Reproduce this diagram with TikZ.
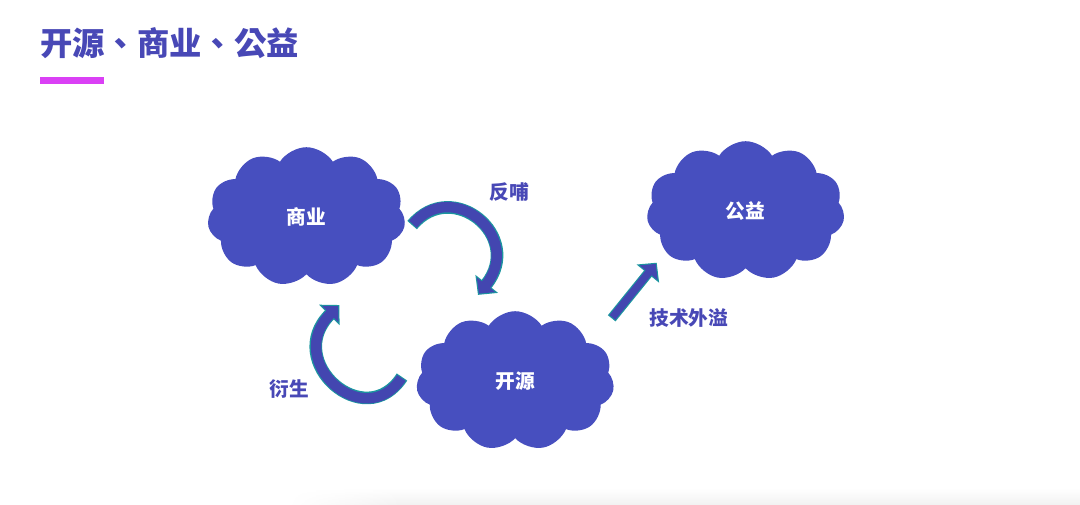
\documentclass[tikz,border=0pt]{standalone}
\usepackage{fontspec}
\setmainfont{Noto Sans CJK SC}
\newfontfamily\headfont{Noto Sans CJK TC}
\usepackage{tikz}
\usetikzlibrary{shapes.symbols,arrows.meta,fadings}
\definecolor{cloudblue}{RGB}{71,79,191}
\definecolor{inkblue}{RGB}{72,72,182}
\definecolor{arrowblue}{RGB}{67,70,176}
\definecolor{arrowedge}{RGB}{28,150,160}
\definecolor{barpink}{RGB}{218,64,245}

\begin{document}
\begin{tikzpicture}[
    puff/.style={cloud, cloud puffs=11, cloud puff arc=115, aspect=1.45, fill=cloudblue, minimum width=4.95cm, minimum height=3.48cm, inner sep=0pt, text=white, font=\bfseries\fontsize{14}{16}\selectfont},
    tag/.style={text=inkblue, inner sep=0pt, font=\bfseries\fontsize{14}{16}\selectfont},
    fat/.style={draw=arrowedge, line width=#1, -{Triangle[width=20pt, length=10pt]}, postaction={draw=arrowblue, line width=#1-1.6pt, shorten >=1.1pt, shorten <=0.8pt, -{Triangle[width=16.2pt, length=8.1pt]}}},
    fat/.default=9pt]
    \useasboundingbox (0,0) rectangle (27,12.6);
    \shade[top color=white, bottom color=black!5] (10,0) rectangle (27,0.4);
    \shade[top color=white, bottom color=black!5, path fading=west] (7.2,0) rectangle (10.01,0.4);
    \node[anchor=west, inner sep=0pt, text=inkblue, font=\headfont\bfseries\fontsize{23}{26}\selectfont] (title) at (1.0,11.525) {开源、商业、公益};
    \fill[barpink] (1.0,10.5) rectangle (2.6,10.675);
    \node[puff] (biz) at (7.66,7.18) {商业};
    \node[puff] (oss) at (12.88,3.08) {开源};
    \node[puff] (pub) at (18.64,7.33) {公益};
    \coordinate (fbtail) at (10.303,6.973);
    \coordinate (fbtip) at (11.949,5.228);
    \coordinate (dvtail) at (10.05,3.175);
    \coordinate (dvtip) at (8.4825,4.975);
    \coordinate (sptail) at (15.2925,4.6425);
    \coordinate (sptip) at (16.4175,6.0325);
    \draw[fat] (fbtail) .. controls +(50:1.56) and +(51.5:1.87) .. (fbtip);
    \draw[fat] (dvtail) .. controls +(-123:1.7) and +(225:2.0) .. (dvtip);
    \draw[fat=7pt] (sptail) -- (sptip);
    \node[tag] (fbtag) at (12.74,7.81) {反哺};
    \node[tag] (dvtag) at (7.24,2.875) {衍生};
    \node[tag] (sptag) at (17.22,4.66) {技术外溢};
\end{tikzpicture}
\end{document}
